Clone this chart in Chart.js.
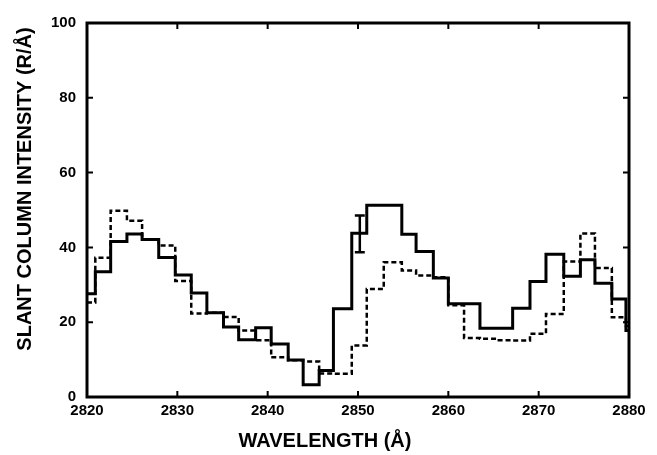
<!DOCTYPE html>
<html>
<head>
<meta charset="utf-8">
<script src="https://cdn.jsdelivr.net/npm/chart.js@4.4.1/dist/chart.umd.min.js"></script>
<style>
  html, body { margin: 0; padding: 0; background: #fff; }
  #chart { display: block; }
</style>
</head>
<body>
<canvas id="chart" width="657" height="455"></canvas>
<script>
// bin edges in Å
const binEdges = [2820, 2820.92, 2822.62, 2824.42, 2826.1, 2827.94, 2829.77, 2831.54, 2833.27,
    2835.11, 2836.79, 2838.67, 2840.39, 2842.27, 2843.93, 2845.7, 2847.28, 2849.31, 2850.97,
    2852.85, 2854.85, 2856.43, 2858.34, 2860.0, 2861.74, 2863.5, 2865.3, 2867.12, 2869.04,
    2870.81, 2872.78, 2874.62, 2876.23, 2878.1, 2879.66, 2880];

// slant column intensity per bin (R/Å)
const solidValues = [27.6, 33.5, 41.6, 43.6, 42.1, 37.3, 32.6, 27.8, 22.5, 18.7, 15.3, 18.5,
    14.2, 9.9, 3.3, 7.1, 23.6, 43.8, 51.3, 51.3, 43.5, 38.9, 31.8, 24.9, 24.9, 18.4, 18.4,
    23.7, 30.9, 38.2, 32.3, 36.7, 30.4, 26.2, 17.8];
const dashedValues = [25.3, 37.2, 49.8, 47.1, 42.1, 40.5, 31.0, 22.3, 22.5, 21.4, 17.8, 15.2,
    10.6, 9.8, 9.5, 6.3, 6.2, 13.8, 28.9, 36.0, 33.8, 32.5, 32.0, 24.5, 15.8, 15.6, 15.2,
    15.1, 16.9, 22.2, 36.2, 43.7, 34.5, 21.3, 19.0];

// one error bar on the solid curve
const errWavelength = 2850.2;
const errLow = 38.7;
const errHigh = 48.5;
const errCapHalf = 0.55;

const xTicks = [2820, 2830, 2840, 2850, 2860, 2870, 2880];
const yTicks = [0, 20, 40, 60, 80, 100];

const FONT = '"Liberation Sans", Arial, sans-serif';

// points at the left edge of each bin, plus closing point at the last edge
function stepPoints(values) {
    const pts = values.map((v, i) => ({ x: binEdges[i], y: v }));
    pts.push({ x: binEdges[binEdges.length - 1], y: values[values.length - 1] });
    return pts;
}

const framePlugin = {
    id: 'frame',
    afterDatasetsDraw(chart) {
        const { ctx, chartArea: a, scales } = chart;
        const xs = scales.x, ys = scales.y;
        ctx.save();
        ctx.strokeStyle = '#000';

        // error bar
        ctx.lineWidth = 2.5;
        const ex = xs.getPixelForValue(errWavelength);
        const eLo = ys.getPixelForValue(errLow);
        const eHi = ys.getPixelForValue(errHigh);
        const cl = xs.getPixelForValue(errWavelength - errCapHalf);
        const cr = xs.getPixelForValue(errWavelength + errCapHalf);
        ctx.beginPath();
        ctx.moveTo(ex, eLo); ctx.lineTo(ex, eHi);
        ctx.moveTo(cl, eLo); ctx.lineTo(cr, eLo);
        ctx.moveTo(cl, eHi); ctx.lineTo(cr, eHi);
        ctx.stroke();

        // box
        ctx.lineWidth = 3;
        ctx.strokeRect(a.left, a.top, a.right - a.left, a.bottom - a.top);

        // inward ticks
        const len = 6;
        ctx.lineWidth = 2;
        ctx.beginPath();
        xTicks.slice(1, -1).forEach(t => {
            const px = xs.getPixelForValue(t);
            ctx.moveTo(px, a.bottom); ctx.lineTo(px, a.bottom - len);
            ctx.moveTo(px, a.top); ctx.lineTo(px, a.top + len);
        });
        yTicks.slice(1, -1).forEach(t => {
            const py = ys.getPixelForValue(t);
            ctx.moveTo(a.left, py); ctx.lineTo(a.left + len, py);
            ctx.moveTo(a.right, py); ctx.lineTo(a.right - len, py);
        });
        ctx.stroke();
        ctx.restore();
    },
    afterDraw(chart) {
        const ctx = chart.ctx;
        ctx.save();
        ctx.fillStyle = '#000';
        ctx.font = 'bold 20px ' + FONT;
        ctx.textAlign = 'center';
        ctx.textBaseline = 'middle';
        ctx.fillText('WAVELENGTH (Å)', 325, 441);
        ctx.translate(25, 189);
        ctx.rotate(-Math.PI / 2);
        ctx.fillText('SLANT COLUMN INTENSITY (R/Å)', 0, 0);
        ctx.restore();
    }
};

new Chart(document.getElementById('chart'), {
    type: 'line',
    data: {
        datasets: [
            {
                data: stepPoints(solidValues),
                stepped: 'before',
                borderColor: '#000',
                borderWidth: 3,
                pointRadius: 0,
                borderJoinStyle: 'miter'
            },
            {
                data: stepPoints(dashedValues),
                stepped: 'before',
                borderColor: '#000',
                borderWidth: 2.5,
                borderDash: [5, 3],
                pointRadius: 0,
                borderJoinStyle: 'miter'
            }
        ]
    },
    options: {
        responsive: false,
        animation: false,
        devicePixelRatio: 1,
        layout: { padding: { top: 23, right: 28, left: 0, bottom: 0 } },
        plugins: {
            legend: { display: false },
            tooltip: { enabled: false }
        },
        scales: {
            x: {
                type: 'linear',
                min: 2820,
                max: 2880,
                afterBuildTicks: s => { s.ticks = xTicks.map(v => ({ value: v })); },
                afterFit: s => { s.height = 58; },
                grid: { display: false, drawTicks: false },
                border: { display: false },
                ticks: {
                    color: '#000',
                    padding: 5,
                    maxRotation: 0,
                    autoSkip: false,
                    callback: v => String(v),
                    font: { family: FONT, weight: 'bold', size: 15 }
                }
            },
            y: {
                min: 0,
                max: 100,
                afterBuildTicks: s => { s.ticks = yTicks.map(v => ({ value: v })); },
                afterFit: s => { s.width = 87; },
                grid: { display: false, drawTicks: false },
                border: { display: false },
                ticks: {
                    color: '#000',
                    padding: 11,
                    callback: v => String(v),
                    font: { family: FONT, weight: 'bold', size: 15 }
                }
            }
        }
    },
    plugins: [framePlugin]
});
</script>
</body>
</html>
